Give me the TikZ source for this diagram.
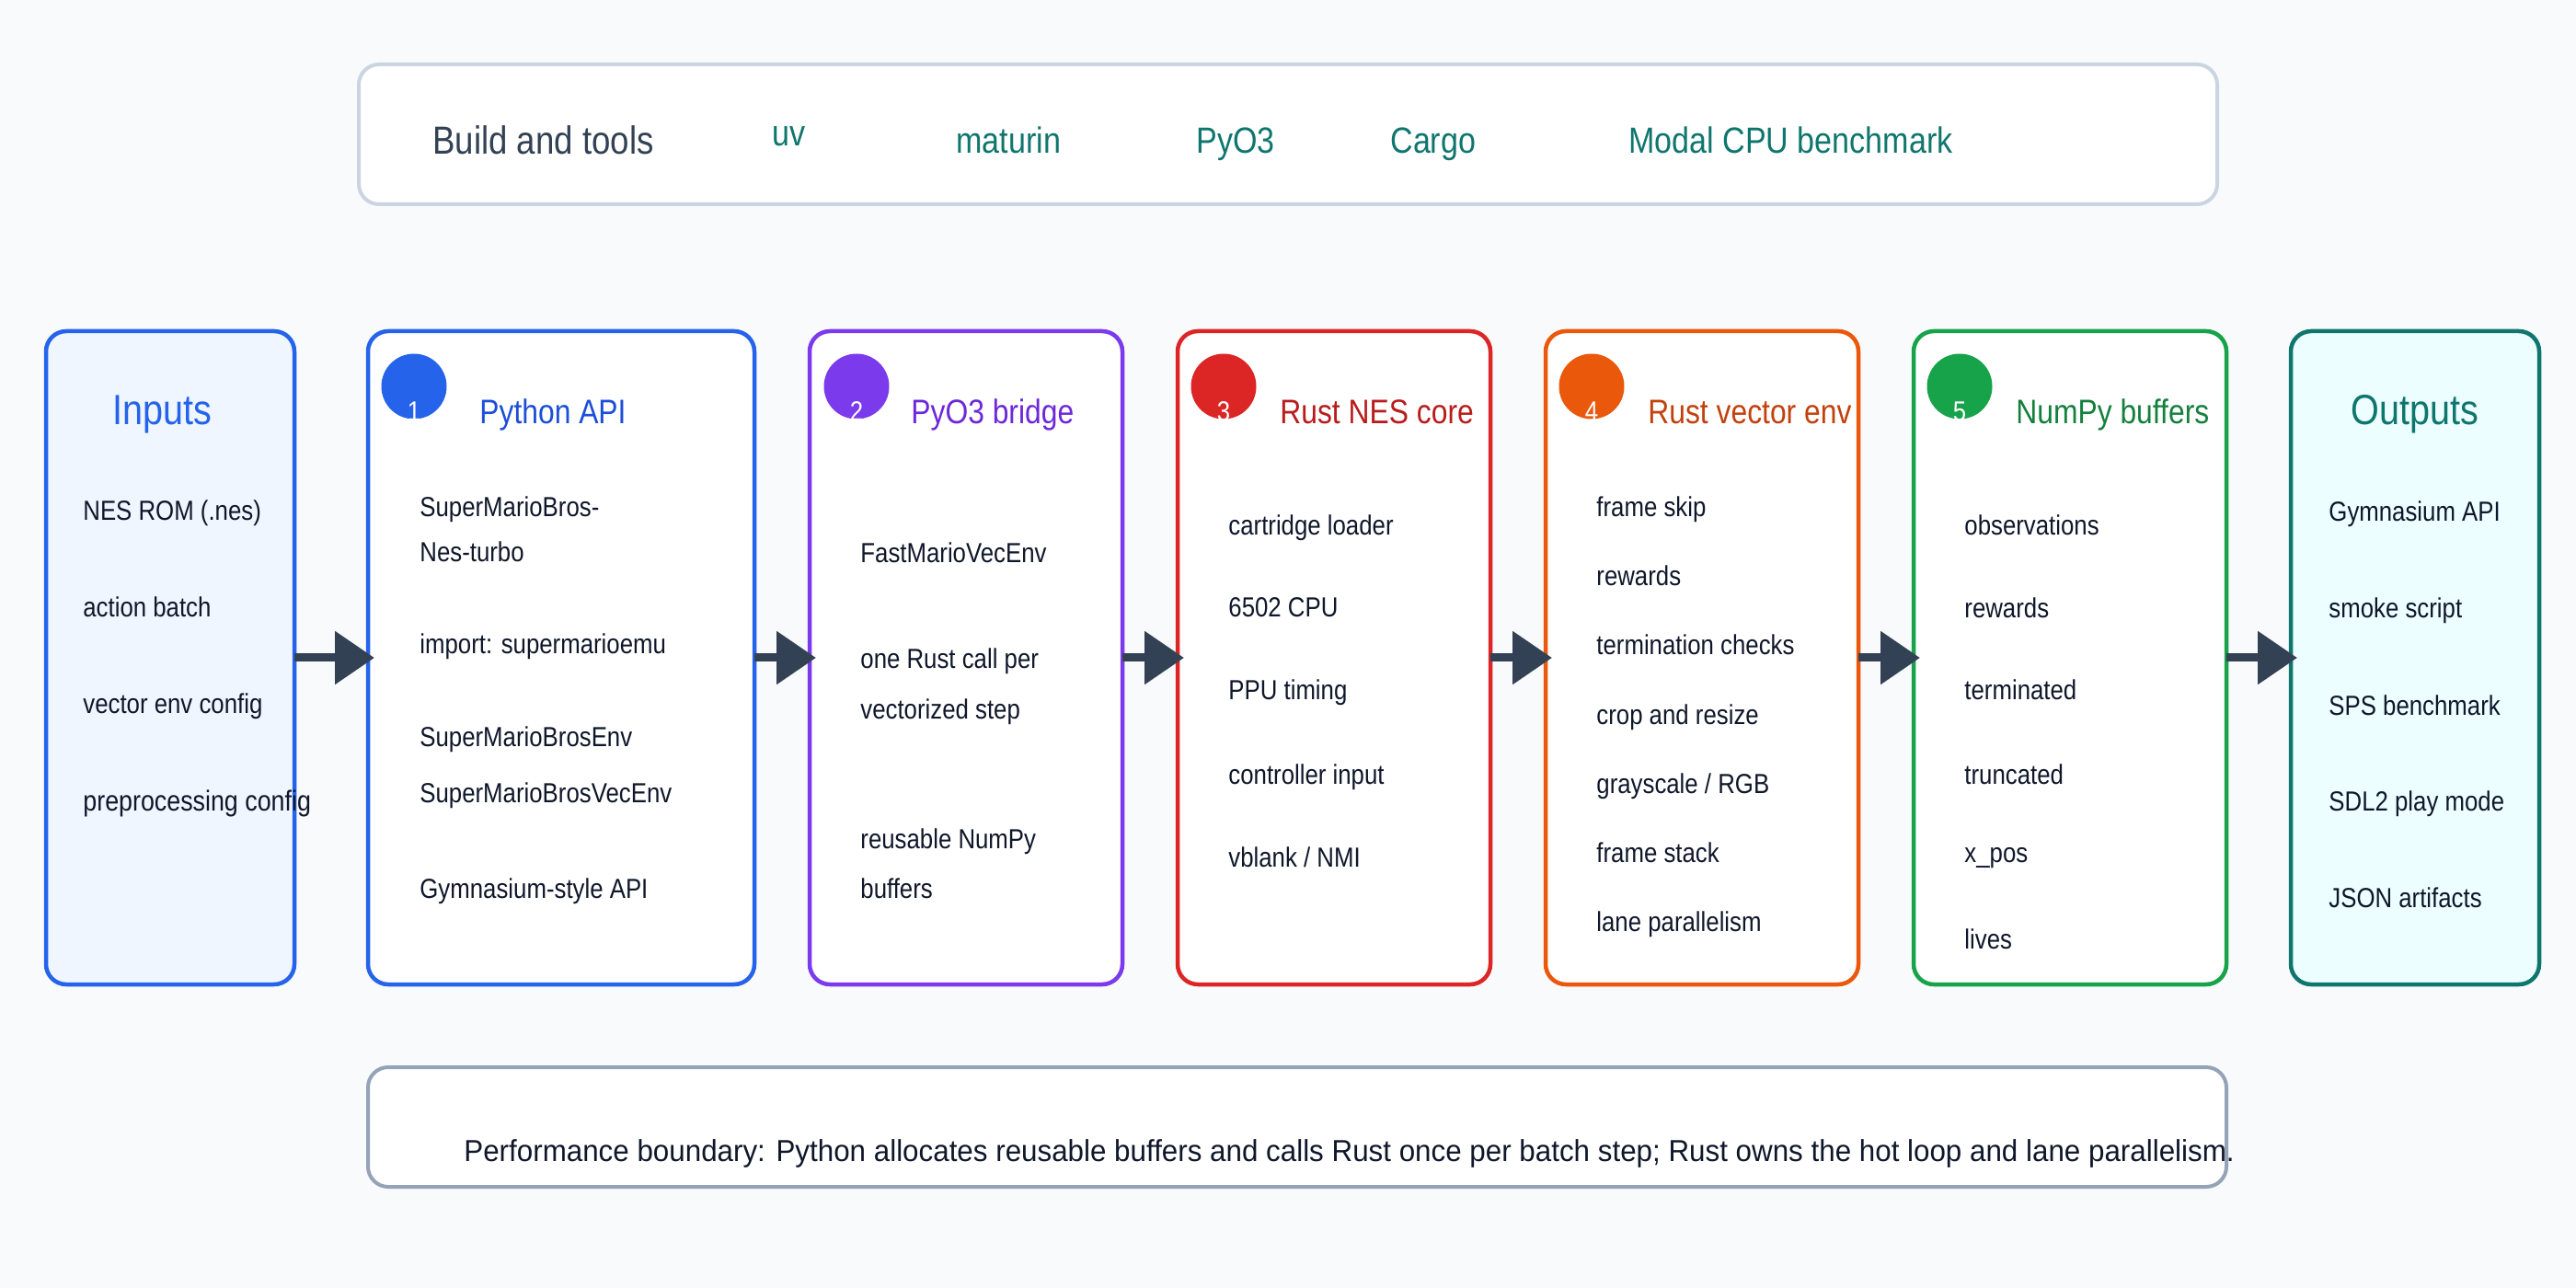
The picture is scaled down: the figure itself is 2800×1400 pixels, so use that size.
\documentclass[tikz,border=0pt]{standalone}
\usepackage{fontspec}
\setmainfont{Liberation Sans}[FakeStretch=0.86]
\newfontfamily\widerfont{Liberation Sans}[FakeStretch=0.95]
\usetikzlibrary{arrows.meta}
\definecolor{bg}{HTML}{F8FAFC}
\definecolor{topborder}{HTML}{CBD5E1}
\definecolor{botborder}{HTML}{94A3B8}
\definecolor{ink}{HTML}{0F172A}
\definecolor{slate}{HTML}{334155}
\definecolor{teal}{HTML}{0F766E}
\definecolor{blue}{HTML}{2563EB}
\definecolor{bluet}{HTML}{1D4ED8}
\definecolor{bluefill}{HTML}{EFF6FF}
\definecolor{purple}{HTML}{7C3AED}
\definecolor{purplet}{HTML}{6D28D9}
\definecolor{red}{HTML}{DC2626}
\definecolor{redt}{HTML}{B91C1C}
\definecolor{orange}{HTML}{EA580C}
\definecolor{oranget}{HTML}{C2410C}
\definecolor{green}{HTML}{16A34A}
\definecolor{greent}{HTML}{15803D}
\definecolor{tealfill}{HTML}{ECFEFF}
\tikzset{
  stagebox/.style={draw=#1, line width=2.25pt, rounded corners=11pt, fill=white,
    minimum height=355pt, inner sep=0pt, outer sep=0pt},
  wideband/.style={draw=#1, line width=2pt, rounded corners=11pt, fill=white,
    inner sep=0pt, outer sep=0pt},
  item/.style={anchor=base west, inner sep=0pt, font=\fontsize{15pt}{18pt}\selectfont, text=ink},
  ttl/.style={anchor=base west, inner sep=0pt, font=\fontsize{18.5pt}{22pt}\selectfont, text=#1},
  sidettl/.style={anchor=base, inner sep=0pt, font=\fontsize{23pt}{27pt}\selectfont, text=#1},
  badge/.style={circle, fill=#1, minimum size=35.5pt, inner sep=0pt},
  badgenum/.style={anchor=base, inner sep=0pt, font=\fontsize{15pt}{18pt}\selectfont, text=white},
  tool/.style={anchor=base west, inner sep=0pt, font=\fontsize{19.8pt}{23pt}\selectfont, text=#1},
  arr/.style={draw=slate, line width=4.5pt, -{Triangle[length=21.5pt,width=28pt]}},
}
\begin{document}
\begin{tikzpicture}[x=0.5pt,y=-0.5pt]
\useasboundingbox[fill=bg] (0,0) rectangle (2800,1400);

% Build and tools band
\node[wideband=topborder, minimum width=1010pt, minimum height=76pt] (tools) at (1400,146) {};
\node[tool=slate, font=\fontsize{21.3pt}{25pt}\selectfont] (tbuild) at (470,168) {Build and tools};
\node[tool=teal] (tuv) at (839,159) {uv};
\node[tool=teal] (tmat) at (1039,167) {maturin};
\node[tool=teal] (tpyo) at (1300,167) {PyO3};
\node[tool=teal] (tcargo) at (1511,167) {Cargo};
\node[tool=teal] (tmodal) at (1770,167) {Modal CPU benchmark};

% Inputs
\node[stagebox=blue, fill=bluefill, minimum width=135pt] (inb) at (185,715) {};
\node[sidettl=blue] (inttl) at (176,462) {Inputs};
\node[item] (in1) at (90,566) {NES ROM (.nes)};
\node[item] (in2) at (90,671) {action batch};
\node[item] (in3) at (90,776) {vector env config};
\node[item, font=\fontsize{15.6pt}{18pt}\selectfont] (in4) at (90,881) {preprocessing config};

% 1 Python API
\node[stagebox=blue, minimum width=210pt] (pyb) at (610,715) {};
\node[badge=blue] (c1) at (450,420) {};
\node[badgenum] (n1) at (450,458) {1};
\node[ttl=bluet] (pyttl) at (521,461) {Python API};
\node[item] (py1) at (456,562) {SuperMarioBros-};
\node[item] (py2) at (456,611) {Nes-turbo};
\node[item] (py3) at (456,711) {import: supermarioemu};
\node[item] (py4) at (456,812) {SuperMarioBrosEnv};
\node[item] (py5) at (456,872) {SuperMarioBrosVecEnv};
\node[item] (py6) at (456,976) {Gymnasium-style API};

% 2 PyO3 bridge
\node[stagebox=purple, minimum width=170pt] (brb) at (1050,715) {};
\node[badge=purple] (c2) at (931,420) {};
\node[badgenum] (n2) at (931,458) {2};
\node[ttl=purplet] (brttl) at (990,461) {PyO3 bridge};
\node[item] (br1) at (935,612) {FastMarioVecEnv};
\node[item] (br2) at (935,727) {one Rust call per};
\node[item] (br3) at (935,782) {vectorized step};
\node[item] (br4) at (935,922) {reusable NumPy};
\node[item] (br5) at (935,976) {buffers};

% 3 Rust NES core
\node[stagebox=red, minimum width=170pt] (nesb) at (1450,715) {};
\node[badge=red] (c3) at (1330,420) {};
\node[badgenum] (n3) at (1330,458) {3};
\node[ttl=redt] (nesttl) at (1391,461) {Rust NES core};
\node[item] (nes1) at (1335,582) {cartridge loader};
\node[item] (nes2) at (1335,671) {6502 CPU};
\node[item] (nes3) at (1335,761) {PPU timing};
\node[item] (nes4) at (1335,852) {controller input};
\node[item] (nes5) at (1335,942) {vblank / NMI};

% 4 Rust vector env
\node[stagebox=orange, minimum width=170pt] (veb) at (1850,715) {};
\node[badge=orange] (c4) at (1730,420) {};
\node[badgenum] (n4) at (1730,458) {4};
\node[ttl=oranget] (vettl) at (1791,461) {Rust vector env};
\node[item] (ve1) at (1735,562) {frame skip};
\node[item] (ve2) at (1735,637) {rewards};
\node[item] (ve3) at (1735,712) {termination checks};
\node[item] (ve4) at (1735,787) {crop and resize};
\node[item] (ve5) at (1735,862) {grayscale / RGB};
\node[item] (ve6) at (1735,937) {frame stack};
\node[item] (ve7) at (1735,1012) {lane parallelism};

% 5 NumPy buffers
\node[stagebox=green, minimum width=170pt] (npb) at (2250,715) {};
\node[badge=green] (c5) at (2130,420) {};
\node[badgenum] (n5) at (2130,458) {5};
\node[ttl=greent] (npttl) at (2191,461) {NumPy buffers};
\node[item] (np1) at (2135,582) {observations};
\node[item] (np2) at (2135,672) {rewards};
\node[item] (np3) at (2135,761) {terminated};
\node[item] (np4) at (2135,852) {truncated};
\node[item] (np5) at (2135,937) {x\_pos};
\node[item] (np6) at (2135,1031) {lives};

% Outputs
\node[stagebox=teal, fill=tealfill, minimum width=135pt] (outb) at (2625,715) {};
\node[sidettl=teal] (outttl) at (2625,462) {Outputs};
\node[item] (out1) at (2531,567) {Gymnasium API};
\node[item] (out2) at (2531,672) {smoke script};
\node[item] (out3) at (2531,777) {SPS benchmark};
\node[item] (out4) at (2531,881) {SDL2 play mode};
\node[item] (out5) at (2531,986) {JSON artifacts};

% arrows
\draw[arr] (inb.east) -- ([xshift=3.5pt]pyb.west);
\draw[arr] (pyb.east) -- ([xshift=3.5pt]brb.west);
\draw[arr] (brb.east) -- ([xshift=3.5pt]nesb.west);
\draw[arr] (nesb.east) -- ([xshift=3.5pt]veb.west);
\draw[arr] (veb.east) -- ([xshift=3.5pt]npb.west);
\draw[arr] (npb.east) -- ([xshift=3.5pt]outb.west);

% performance boundary band
\node[wideband=botborder, minimum width=1010pt, minimum height=65pt] (perf) at (1410,1225) {};
\node[anchor=base west, inner sep=0pt, font=\widerfont\fontsize{16.5pt}{20pt}\selectfont, text=ink] (perftxt) at (504,1262)
  {Performance boundary: Python allocates reusable buffers and calls Rust once per batch step; Rust owns the hot loop and lane parallelism.};
\end{tikzpicture}
\end{document}
